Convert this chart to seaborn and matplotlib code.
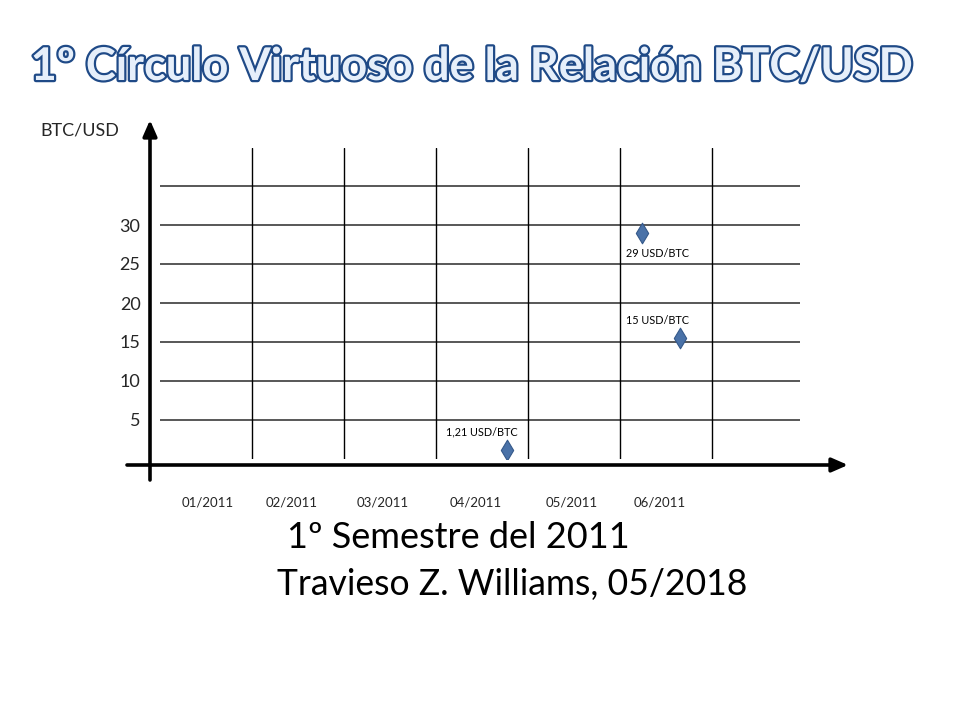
import matplotlib
matplotlib.use("Agg")
import matplotlib.pyplot as plt
import matplotlib.patheffects as pe
import seaborn as sns
import pandas as pd

# data
month_labels = ["01/2011", "02/2011", "03/2011", "04/2011", "05/2011", "06/2011"]
month_label_pos = [0.52, 1.43, 2.42, 3.43, 4.47, 5.43]
month_edges = [1, 2, 3, 4, 5, 6]
y_levels = [5, 10, 15, 20, 25, 30, 35]
y_tick_vals = [5, 10, 15, 20, 25, 30]
point_x = [3.77, 5.24, 5.65]
point_price = [1.21, 29, 15.5]
point_labels = ["1,21 USD/BTC", "29 USD/BTC", "15 USD/BTC"]
label_offsets = [(-18, 13), (11, -15), (-16, 13)]

df = pd.DataFrame({"mes": point_x, "precio": point_price, "etiqueta": point_labels})

sns.set_theme(style="white")
plt.rcParams["font.family"] = ["Lato", "DejaVu Sans"]

W, H = 960, 720
fig = plt.figure(figsize=(9.6, 7.2), dpi=100)
fig.patch.set_facecolor("white")

# axes box in pixels: x 160..800, y (value 0) at 459, top at 148
px_per_unit = 39 / 5
left, right, bottom, top = 160, 800, 459, 148
ax = fig.add_axes([left / W, 1 - bottom / H, (right - left) / W, (bottom - top) / H])
ax.set_xlim(0, (right - left) / 92)
ax.set_ylim(0, (bottom - top) / px_per_unit)
for s in ax.spines.values():
    s.set_visible(False)
ax.set_facecolor("none")

for y in y_levels:
    ax.axhline(y, color="#4a4a4a", lw=1.3, zorder=1)
for x in month_edges:
    ax.axvline(x, ymin=0.0, ymax=1.0, color="black", lw=1.0, zorder=1)

sns.scatterplot(data=df, x="mes", y="precio", marker="d", s=110,
                color="#4a72a8", edgecolor="#35598a", linewidth=0.8,
                ax=ax, zorder=3, legend=False)

for (xv, yv, lab), off in zip(zip(point_x, point_price, point_labels), label_offsets):
    ax.annotate(lab, (xv, yv), xytext=off, textcoords="offset points",
                ha="center", va="center", fontsize=7.8, color="black")

ax.set_xticks(month_label_pos)
ax.set_xticklabels(month_labels, fontsize=9.5)
ax.set_yticks(y_tick_vals)
ax.set_yticklabels([str(v) for v in y_tick_vals], fontsize=13)
ax.tick_params(axis="x", length=0, pad=27)
ax.tick_params(axis="y", length=0, pad=14)
ax.set_xlabel("")
ax.set_ylabel("")

# axis arrows (figure pixels, origin bottom-left)
arrow = dict(arrowstyle="-|>,head_length=0.8,head_width=0.35", color="black", lw=2.6,
             shrinkA=0, shrinkB=0)
ax.annotate("", xy=(848, H - 465), xytext=(127, H - 465),
            xycoords="figure pixels", textcoords="figure pixels", arrowprops=arrow)
ax.annotate("", xy=(150, H - 120), xytext=(150, H - 480),
            xycoords="figure pixels", textcoords="figure pixels", arrowprops=arrow)

fig.text(40 / W, 1 - 131 / H, "BTC/USD", fontsize=13, ha="left", va="center")

title = fig.text(472 / W, 1 - 67 / H, "1º Círculo Virtuoso de la Relación BTC/USD",
                 fontsize=32.5, fontweight="bold", ha="center", va="center",
                 color="#e6effa")
title.set_path_effects([pe.Stroke(linewidth=3.2, foreground="#1f4a87"), pe.Normal()])

fig.text(287 / W, 1 - 537 / H, "1º Semestre del 2011", fontsize=26,
         ha="left", va="center", color="black")
fig.text(277 / W, 1 - 585 / H, "Travieso Z. Williams, 05/2018", fontsize=25.6,
         ha="left", va="center", color="black")

fig.savefig("out.png", dpi=100, facecolor="white")
